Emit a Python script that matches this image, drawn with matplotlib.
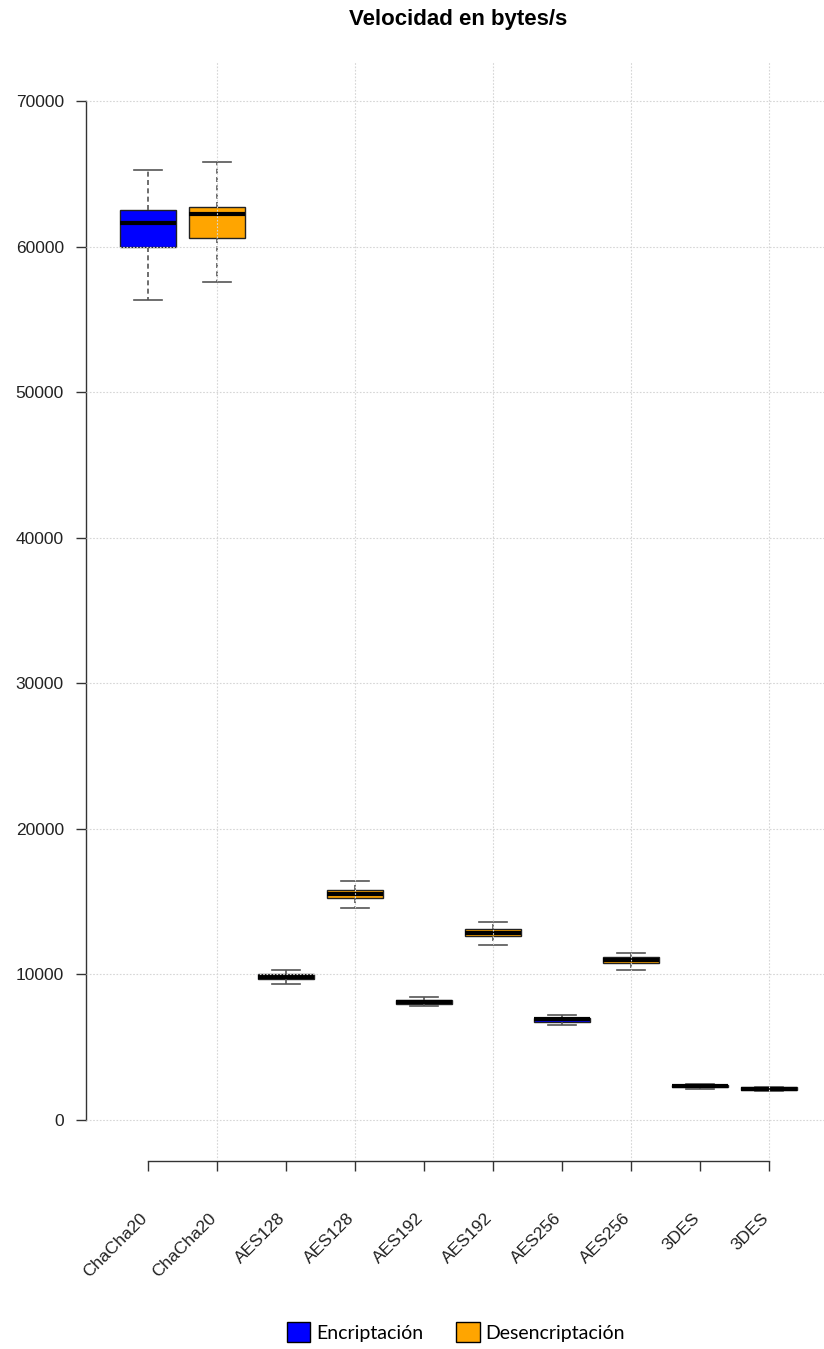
import matplotlib
matplotlib.use("Agg")
import matplotlib.pyplot as plt
from matplotlib.patches import Patch

# cifrados y estadisticos de cada caja (bytes/s)
etiquetas = ["ChaCha20", "ChaCha20", "AES128", "AES128", "AES192", "AES192",
             "AES256", "AES256", "3DES", "3DES"]
tipo = ["enc", "dec"] * 5
bigote_alto = [65260, 65830, 10325, 16440, 8470, 13600, 7210, 11490, 2470, 2280]
q3 = [62510, 62750, 10010, 15780, 8240, 13100, 7040, 11180, 2425, 2245]
mediana = [61620, 62240, 9845, 15525, 8105, 12880, 6905, 10960, 2335, 2150]
q1 = [59970, 60590, 9685, 15250, 7935, 12620, 6730, 10765, 2245, 2060]
bigote_bajo = [56330, 57590, 9320, 14540, 7850, 12045, 6525, 10325, 2110, 2015]

colores = {"enc": "#0000FF", "dec": "#FFA500"}

plt.rcParams["font.family"] = ["Liberation Sans", "DejaVu Sans"]

W, H = 824, 1349
fig = plt.figure(figsize=(W / 100, H / 100), dpi=100)
# area del grafico en pixeles: x 86..824, y 62..1161
ax = fig.add_axes([86 / W, 1 - 1161 / H, (824 - 86) / W, (1161 - 62) / H])

stats = []
for i in range(len(etiquetas)):
    stats.append(dict(med=mediana[i], q1=q1[i], q3=q3[i],
                      whislo=bigote_bajo[i], whishi=bigote_alto[i], fliers=[]))

pos = list(range(1, len(etiquetas) + 1))
bp = ax.bxp(stats, positions=pos, widths=0.8, capwidths=0.4, patch_artist=True,
            showfliers=False,
            boxprops=dict(edgecolor="#222222", linewidth=1.0),
            medianprops=dict(color="black", linewidth=3.0, solid_capstyle="butt"),
            whiskerprops=dict(color="#555555", linewidth=1.2, linestyle=(0, (3, 2))),
            capprops=dict(color="#555555", linewidth=1.2))
for caja, t in zip(bp["boxes"], tipo):
    caja.set_facecolor(colores[t])

ax.set_xlim(1 - 62 / 69, 10 + 55 / 69)
py = 70000 / (1120 - 101)
ax.set_ylim(-(1161 - 1120) * py, 70000 + (101 - 62) * py)

ax.set_yticks(range(0, 70001, 10000))
ax.set_xticks(pos)
ax.set_xticklabels([])

# rejilla punteada encima de las cajas
ax.set_axisbelow(False)
for y in range(0, 70001, 10000):
    ax.axhline(y, color="#D6D6D6", linestyle=(0, (1.5, 1.5)), linewidth=0.8, zorder=3)
for x in [2, 4, 6, 8, 10]:
    ax.axvline(x, color="#D6D6D6", linestyle=(0, (1.5, 1.5)), linewidth=0.8, zorder=3)

for s in ["top", "right"]:
    ax.spines[s].set_visible(False)
ax.spines["left"].set_bounds(0, 70000)
ax.spines["bottom"].set_bounds(1, 10)
for s in ["left", "bottom"]:
    ax.spines[s].set_color("#333333")
    ax.spines[s].set_linewidth(1.0)
ax.tick_params(axis="both", direction="out", length=7.5, width=1.0, color="#333333",
               labelsize=12.5, labelcolor="#222222")
ax.tick_params(axis="y", pad=8.5)

for x, lab in zip(pos, etiquetas):
    ax.annotate(lab, xy=(x, 0), xycoords=("data", "axes fraction"),
                xytext=(-3, -55), textcoords="offset pixels",
                rotation=45, rotation_mode="anchor", ha="right", va="center",
                fontsize=12.5, color="#222222")

fig.text(458 / W, 1 - 20 / H, "Velocidad en bytes/s", ha="center", va="center",
         fontsize=16, fontweight="bold")

handles = [Patch(facecolor=colores["enc"], edgecolor="black", label="Encriptación"),
           Patch(facecolor=colores["dec"], edgecolor="black", label="Desencriptación")]
fig.legend(handles=handles, loc="center", bbox_to_anchor=(456 / W, 1 - 1332 / H),
           ncol=2, frameon=False, handlelength=1.2, handleheight=1.2,
           handletextpad=0.3, columnspacing=1.7,
           prop={"family": "Lato", "size": 14})

fig.savefig("out.png", dpi=100)
